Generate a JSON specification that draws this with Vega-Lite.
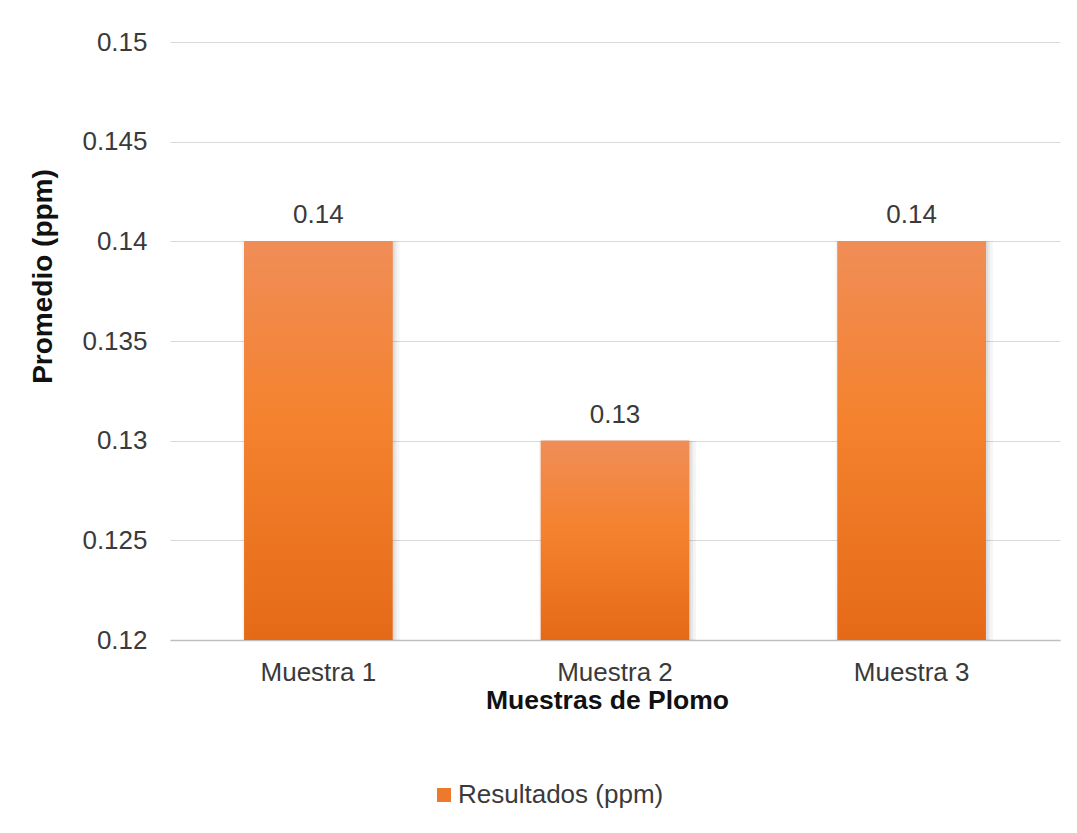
{
  "$schema": "https://vega.github.io/schema/vega-lite/v6.json",
  "width": 890,
  "height": 598,
  "autosize": {"type": "none"},
  "padding": {"left": 170, "top": 42, "right": 17, "bottom": 193},
  "background": "#ffffff",
  "config": {
    "font": "Liberation Sans",
    "view": {"stroke": null},
    "axis": {
      "labelFont": "Liberation Sans",
      "titleFont": "Liberation Sans",
      "labelColor": "#3a3a3a",
      "titleColor": "#111111"
    }
  },
  "data": {
    "values": [
      {"muestra": "Muestra 1", "valor": 0.14, "serie": "Resultados (ppm)"},
      {"muestra": "Muestra 2", "valor": 0.13, "serie": "Resultados (ppm)"},
      {"muestra": "Muestra 3", "valor": 0.14, "serie": "Resultados (ppm)"}
    ]
  },
  "encoding": {
    "x": {
      "field": "muestra",
      "type": "nominal",
      "sort": null,
      "scale": {"paddingInner": 0.5, "paddingOuter": 0.25},
      "axis": {
        "title": "Muestras de Plomo",
        "titleFontSize": 26.5,
        "titleFontWeight": "bold",
        "titleBaseline": "alphabetic",
        "titleX": 437,
        "titleY": 68,
        "labelAngle": 0,
        "labelFontSize": 26,
        "labelPadding": 19,
        "ticks": false,
        "domainColor": "#bfbfbf",
        "domainWidth": 1.5,
        "grid": false
      }
    },
    "y": {
      "field": "valor",
      "type": "quantitative",
      "scale": {"domain": [0.12, 0.15], "zero": false, "nice": false},
      "axis": {
        "title": "Promedio (ppm)",
        "titleFontSize": 28,
        "titleFontWeight": "bold",
        "titleAngle": -90,
        "titleBaseline": "alphabetic",
        "titleAlign": "center",
        "titleX": -119,
        "titleY": 234,
        "values": [0.12, 0.125, 0.13, 0.135, 0.14, 0.145, 0.15],
        "format": "~g",
        "labelFontSize": 26,
        "labelPadding": 23,
        "ticks": false,
        "domain": false,
        "grid": true,
        "gridColor": "#d9d9d9",
        "gridWidth": 1
      }
    }
  },
  "layer": [
    {
      "mark": {"type": "bar", "color": "#000000", "opacity": 0.04, "xOffset": 7},
      "encoding": {"y2": {"datum": 0.12}}
    },
    {
      "mark": {"type": "bar", "color": "#000000", "opacity": 0.05, "xOffset": 4},
      "encoding": {"y2": {"datum": 0.12}}
    },
    {
      "mark": {"type": "bar", "color": "#000000", "opacity": 0.05, "xOffset": 2},
      "encoding": {"y2": {"datum": 0.12}}
    },
    {
      "mark": {"type": "bar", "color": "#000000", "opacity": 0.04, "xOffset": -2},
      "encoding": {"y2": {"datum": 0.12}}
    },
    {
      "mark": {"type": "bar"},
      "encoding": {
        "y2": {"datum": 0.12},
        "color": {
          "field": "serie",
          "type": "nominal",
          "scale": {"range": ["#ED7A2C"]},
          "legend": {
            "title": null,
            "orient": "none",
            "legendX": 261,
            "legendY": 740,
            "padding": 0,
            "symbolType": "square",
            "symbolSize": 196,
            "symbolStrokeWidth": 0,
            "labelFontSize": 26,
            "labelFont": "Liberation Sans",
            "labelColor": "#3a3a3a",
            "labelLimit": 500,
            "labelOffset": 1
          }
        }
      }
    },
    {
      "mark": {
        "type": "bar",
        "fill": {
          "gradient": "linear",
          "x1": 0, "y1": 0, "x2": 0, "y2": 1,
          "stops": [
            {"offset": 0, "color": "#F08D57"},
            {"offset": 0.45, "color": "#F4822E"},
            {"offset": 1, "color": "#E56A17"}
          ]
        }
      },
      "encoding": {"y2": {"datum": 0.12}}
    },
    {
      "mark": {
        "type": "text",
        "dy": -18,
        "baseline": "alphabetic",
        "fontSize": 26,
        "font": "Liberation Sans",
        "color": "#3a3a3a"
      },
      "encoding": {
        "text": {"field": "valor", "type": "quantitative", "format": ".2f"}
      }
    }
  ]
}
